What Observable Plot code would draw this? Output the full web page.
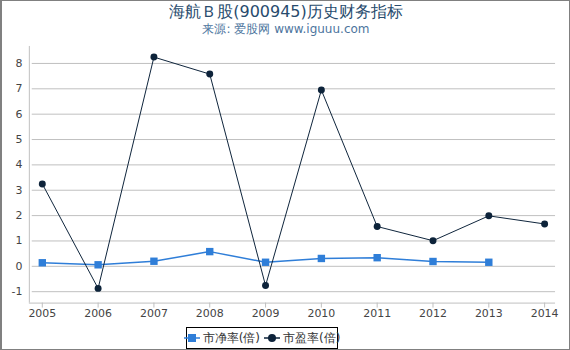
<!DOCTYPE html>
<html><head><meta charset="utf-8">
<script src="https://cdn.jsdelivr.net/npm/d3@7"></script>
<script src="https://cdn.jsdelivr.net/npm/@observablehq/plot@0.6"></script>
<style>
html,body{margin:0;padding:0;background:#fff;}
#wrap{position:relative;width:570px;height:350px;box-sizing:border-box;border:1px solid #808080;border-left:2px solid #808080;overflow:hidden;font-family:"DejaVu Sans",sans-serif;}
#title{position:absolute;left:0;top:0;width:568px;text-align:center;font-size:16px;color:#274b6d;line-height:20px;top:1px;}
#sub{position:absolute;left:0;width:568px;text-align:center;font-size:12px;color:#4d759e;top:20px;line-height:16px;}
#chart{position:absolute;left:-2px;top:37px;}
#legend{position:absolute;left:184px;top:326px;width:152px;height:22px;border:1px solid #000;box-sizing:border-box;font-size:12px;color:#333;display:flex;align-items:center;justify-content:center;gap:4px;white-space:nowrap;}
#legend span{display:flex;align-items:center;}
</style></head>
<body><div id="wrap">
<div id="title">海航Ｂ股(900945)历史财务指标</div>
<div id="sub">来源: 爱股网 www.iguuu.com</div>
<div id="chart"></div>
<div id="legend"></div>
</div>
<script>
const years = [2005,2006,2007,2008,2009,2010,2011,2012,2013,2014];
const pb = [0.14,0.06,0.20,0.58,0.16,0.31,0.34,0.19,0.16,null];
const pe = [3.25,-0.87,8.25,7.58,-0.76,6.95,1.57,1.01,1.99,1.67];
const yTicks = [-1,0,1,2,3,4,5,6,7,8];
const seriesNames = ["市净率(倍)","市盈率(倍)"];
const colors = ["#2f7ed8","#0d233a"];

const pbData = years.map((y,i)=>({year:y,v:pb[i]})).filter(d=>d.v!=null);
const peData = years.map((y,i)=>({year:y,v:pe[i]}));

const plot = Plot.plot({
  width: 572, height: 289,
  marginLeft: 29, marginRight: 14, marginTop: 8, marginBottom: 23,
  x: {domain:[2004.768,2014.196], label: null},
  y: {domain:[-1.45,8.67], label: null},
  style: {fontFamily:'"DejaVu Sans",sans-serif', fontSize:"11px", color:"#444", background:"transparent"},
  marks: [
    Plot.ruleY(yTicks, {x1: 2004.82, x2: 2014.196, stroke:"#c0c0c0", strokeWidth:1}),
    Plot.ruleX([2004.768], {stroke:"#c0c0c0"}),
    Plot.ruleY([-1.45], {stroke:"#c0c0c0"}),
    Plot.axisY({ticks: yTicks, tickSize:0, tickPadding:7, fill:"#444", fontSize:11, label:null, tickFormat:d=>String(d)}),
    Plot.axisX({ticks: years, tickSize:5, tickPadding:1, stroke:"#c0c0c0", fill:"#444", fontSize:11, label:null, tickFormat:d=>String(d)}),
    Plot.line(pbData, {x:"year", y:"v", stroke:colors[0], strokeWidth:1.5}),
    Plot.dot(pbData, {x:"year", y:"v", symbol:"square", r:4.2, fill:colors[0], stroke:"none"}),
    Plot.line(peData, {x:"year", y:"v", stroke:colors[1], strokeWidth:1}),
    Plot.dot(peData, {x:"year", y:"v", r:3.5, fill:colors[1], stroke:"none"})
  ]
});
document.getElementById("chart").appendChild(plot);

const leg = document.getElementById("legend");
seriesNames.forEach((n,i)=>{
  const s = document.createElement("span");
  const sym = i===0
    ? `<svg width="16" height="12"><line x1="0" y1="6" x2="16" y2="6" stroke="${colors[0]}" stroke-width="1.5"/><rect x="4" y="2" width="8" height="8" fill="${colors[0]}"/></svg>`
    : `<svg width="16" height="12"><line x1="0" y1="6" x2="16" y2="6" stroke="${colors[1]}" stroke-width="1.5"/><circle cx="8" cy="6" r="4" fill="${colors[1]}"/></svg>`;
  s.innerHTML = sym + `<span style="margin-left:3px">${n}</span>`;
  leg.appendChild(s);
});
</script>
</body></html>
